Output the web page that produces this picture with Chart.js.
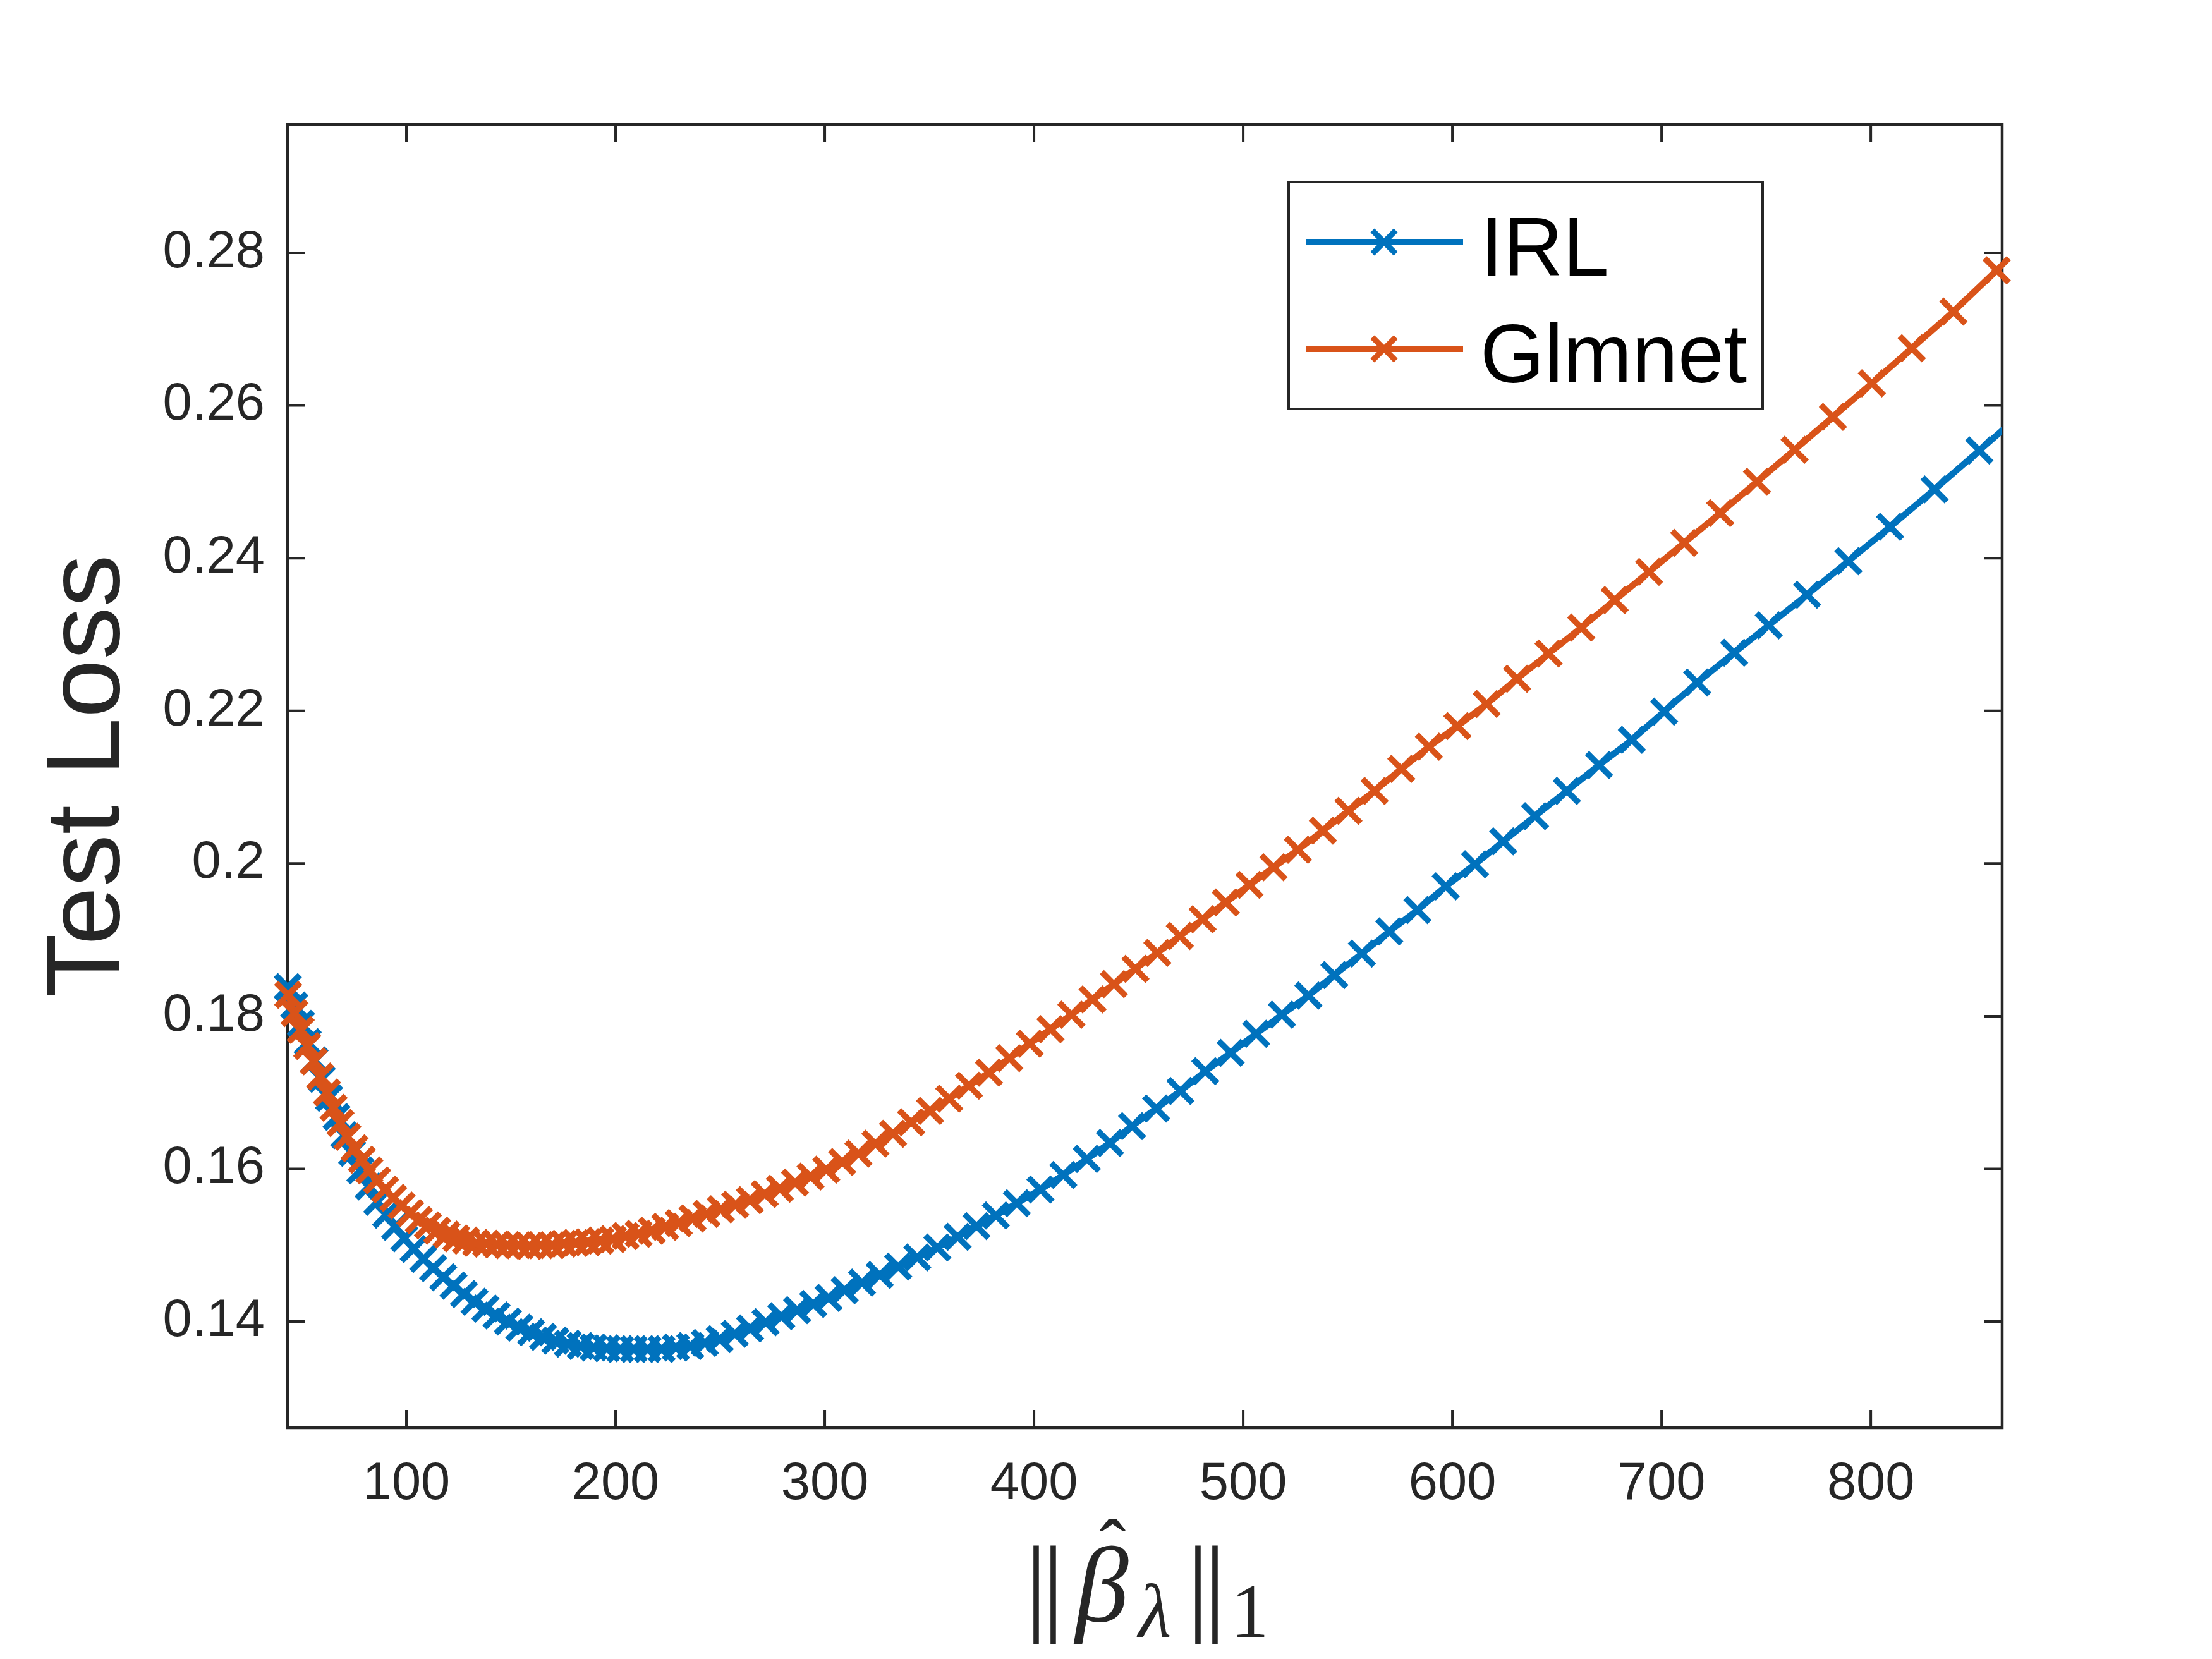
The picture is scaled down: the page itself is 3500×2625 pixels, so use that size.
<!DOCTYPE html>
<html><head><meta charset="utf-8">
<script src="https://cdn.jsdelivr.net/npm/chart.js@4/dist/chart.umd.min.js"></script>
<style>html,body{margin:0;padding:0;background:#fff;} canvas{display:block;}</style>
</head><body>
<canvas id="c" width="3500" height="2625" style="width:3500px;height:2625px"></canvas>
<script>
// ---- data ----
const irlX = [43.3, 46.4, 49.6, 52.8, 56.1, 59.5, 63.0, 66.6, 70.3, 74.1,
  78.0, 82.0, 86.1, 90.3, 94.6, 99.0, 103.5, 108.1, 112.8, 117.6,
  122.5, 127.5, 132.6, 137.8, 143.1, 148.5, 154.0, 159.6, 165.3, 171.2,
  177.2, 183.3, 189.5, 195.8, 202.2, 208.7, 215.3, 222.0, 228.8, 235.7,
  242.7, 249.8, 257.0, 264.3, 271.7, 279.2, 286.8, 294.5, 301.8, 309.5,
  317.8, 326.3, 335.1, 344.2, 353.8, 363.5, 372.5, 381.8, 391.8, 403.1,
  414.0, 425.3, 436.3, 446.9, 458.4, 470.0, 481.9, 494.0, 506.2, 518.5,
  531.2, 543.6, 556.7, 569.8, 583.3, 596.8, 610.8, 624.3, 639.5, 654.7,
  670.1, 685.8, 701.2, 717.0, 734.7, 751.2, 769.5, 789.3, 809.2, 830.5,
  851.9, 873.5];
const irlY = [0.1838, 0.1814, 0.1790, 0.1766, 0.1742, 0.1718, 0.1693, 0.1668, 0.1644, 0.1621,
  0.1598, 0.1577, 0.1557, 0.1540, 0.1524, 0.1509, 0.1495, 0.1482, 0.1470, 0.1458,
  0.1447, 0.1436, 0.1426, 0.1417, 0.1408, 0.1400, 0.1392, 0.1386, 0.1380, 0.1375,
  0.1371, 0.1368, 0.1366, 0.1365, 0.1364, 0.1364, 0.1364, 0.1364, 0.1366, 0.1368,
  0.1372, 0.1377, 0.1384, 0.1391, 0.1399, 0.1407, 0.1415, 0.1423, 0.1431, 0.1441,
  0.1451, 0.1461, 0.1472, 0.1484, 0.1497, 0.1511, 0.1525, 0.1539, 0.1555, 0.1573,
  0.1592, 0.1613, 0.1634, 0.1656, 0.1679, 0.1702, 0.1728, 0.1752, 0.1777, 0.1802,
  0.1827, 0.1854, 0.1882, 0.1911, 0.1939, 0.1970, 0.1999, 0.2029, 0.2062, 0.2095,
  0.2129, 0.2162, 0.2199, 0.2237, 0.2276, 0.2312, 0.2352, 0.2396, 0.2441, 0.2490,
  0.2541, 0.2593];
const glmX = [43.5, 46.5, 49.5, 52.6, 55.7, 58.8, 62.0, 65.2, 68.5, 71.8,
  75.2, 78.7, 82.3, 86.0, 89.8, 93.7, 97.7, 101.8, 106.0, 110.3,
  114.7, 119.2, 123.8, 128.5, 133.3, 138.2, 143.2, 148.3, 153.5, 158.8,
  164.2, 169.7, 175.3, 181.0, 186.8, 192.7, 198.7, 204.8, 211.0, 217.3,
  223.7, 230.2, 236.8, 243.5, 250.3, 257.2, 264.2, 271.3, 278.5, 285.8,
  293.2, 300.7, 308.3, 316.1, 324.2, 332.6, 341.3, 350.3, 359.5, 368.9,
  378.5, 388.2, 398.0, 407.9, 417.9, 428.0, 438.2, 448.5, 459.0, 469.7,
  480.6, 491.7, 503.0, 514.5, 526.2, 538.1, 550.3, 562.8, 575.6, 588.8,
  602.4, 616.4, 630.9, 646.0, 661.6, 677.6, 694.0, 710.8, 728.0, 745.6,
  763.6, 781.9, 800.5, 819.6, 839.5, 860.2];
const glmY = [0.1828, 0.1804, 0.1782, 0.1761, 0.1741, 0.1721, 0.1700, 0.1680, 0.1660, 0.1642,
  0.1627, 0.1612, 0.1598, 0.1585, 0.1573, 0.1562, 0.1552, 0.1542, 0.1533, 0.1526,
  0.1519, 0.1514, 0.1509, 0.1506, 0.1503, 0.1502, 0.1501, 0.1500, 0.1500, 0.1499,
  0.1500, 0.1500, 0.1502, 0.1503, 0.1504, 0.1506, 0.1508, 0.1512, 0.1515, 0.1519,
  0.1524, 0.1529, 0.1535, 0.1541, 0.1547, 0.1553, 0.1559, 0.1567, 0.1574, 0.1582,
  0.1590, 0.1599, 0.1609, 0.1620, 0.1633, 0.1646, 0.1661, 0.1676, 0.1692, 0.1709,
  0.1726, 0.1745, 0.1764, 0.1783, 0.1802, 0.1822, 0.1842, 0.1862, 0.1883, 0.1905,
  0.1927, 0.1949, 0.1972, 0.1995, 0.2018, 0.2043, 0.2069, 0.2095, 0.2124, 0.2153,
  0.2180, 0.2209, 0.2242, 0.2275, 0.2309, 0.2345, 0.2382, 0.2420, 0.2459, 0.2500,
  0.2542, 0.2585, 0.2629, 0.2675, 0.2723, 0.2777];
const seriesNames = ['IRL', 'Glmnet'];
const xTickValues = [100, 200, 300, 400, 500, 600, 700, 800];
const xTickLabels = ['100', '200', '300', '400', '500', '600', '700', '800'];
const yTickValues = [0.14, 0.16, 0.18, 0.20, 0.22, 0.24, 0.26, 0.28];
const yTickLabels = ['0.14', '0.16', '0.18', '0.2', '0.22', '0.24', '0.26', '0.28'];
const xRange = [43.2, 862.8];
const yRange = [0.1261, 0.2968];
const yTitle = 'Test Loss';

// ---- styling ----
const AX = '#262626';
const BLUE = '#0072BD';
const ORANGE = '#D95319';
Chart.defaults.font.family = '"Liberation Sans", Arial, sans-serif';

const framePlugin = {
  id: 'frame',
  beforeDatasetsDraw(chart) {
    const {ctx, chartArea: a, scales: {x, y}} = chart;
    const T = 28;
    ctx.save();
    ctx.strokeStyle = AX;
    ctx.lineWidth = 4;
    ctx.beginPath();
    xTickValues.forEach(v => {
      const px = x.getPixelForValue(v);
      ctx.moveTo(px, a.bottom); ctx.lineTo(px, a.bottom - T);
      ctx.moveTo(px, a.top); ctx.lineTo(px, a.top + T);
    });
    yTickValues.forEach(v => {
      const py = y.getPixelForValue(v);
      ctx.moveTo(a.left, py); ctx.lineTo(a.left + T, py);
      ctx.moveTo(a.right, py); ctx.lineTo(a.right - T, py);
    });
    ctx.stroke();
    ctx.lineWidth = 4.5;
    ctx.strokeRect(a.left, a.top, a.right - a.left, a.bottom - a.top);
    ctx.restore();
  }
};

function drawX(ctx, cx, cy, r, color, w) {
  const o = r * Math.SQRT1_2;
  ctx.save();
  ctx.strokeStyle = color; ctx.lineWidth = w;
  ctx.beginPath();
  ctx.moveTo(cx - o, cy - o); ctx.lineTo(cx + o, cy + o);
  ctx.moveTo(cx + o, cy - o); ctx.lineTo(cx - o, cy + o);
  ctx.stroke();
  ctx.restore();
}

const legendPlugin = {
  id: 'mlegend',
  afterDraw(chart) {
    const {ctx, chartArea: a} = chart;
    const bx = a.right - 1129, by = a.top + 91, bw = 750, bh = 359;
    ctx.save();
    ctx.fillStyle = '#fff';
    ctx.fillRect(bx, by, bw, bh);
    ctx.strokeStyle = AX; ctx.lineWidth = 4;
    ctx.strokeRect(bx, by, bw, bh);
    chart.data.datasets.forEach((ds, i) => {
      const ry = by + 95 + i * 169;
      ctx.strokeStyle = ds.borderColor; ctx.lineWidth = 10;
      ctx.beginPath(); ctx.moveTo(bx + 27, ry); ctx.lineTo(bx + 276, ry); ctx.stroke();
      drawX(ctx, bx + 151, ry, 26, ds.borderColor, 9);
      ctx.fillStyle = '#000';
      ctx.font = '131px "Liberation Sans"';
      ctx.textAlign = 'left'; ctx.textBaseline = 'alphabetic';
      ctx.fillText(ds.label, bx + 303, ry + 53);
    });
    ctx.restore();
  }
};

const xLabelPlugin = {
  id: 'xlabel',
  afterDraw(chart) {
    const {ctx, chartArea: a} = chart;
    const cx = (a.left + a.right) / 2;
    const base = a.bottom + 306, subBase = a.bottom + 331, hatBase = a.bottom + 234;
    const bar = '172px "Liberation Serif"';
    const parts = [
      {t: '|', f: bar, dx: -172, b: base},
      {t: '|', f: bar, dx: -145, b: base},
      {t: '\u03B2', f: 'italic 169px "Liberation Serif"', dx: -68, b: base},
      {t: '\u02C6', f: '127px "Liberation Serif"', dx: -51, b: hatBase},
      {t: '\u03BB', f: 'italic 120px "Liberation Serif"', dx: 16, b: subBase},
      {t: '|', f: bar, dx: 84, b: base},
      {t: '|', f: bar, dx: 111, b: base},
      {t: '1', f: '120px "Liberation Serif"', dx: 166, b: subBase}
    ];
    ctx.save();
    ctx.fillStyle = AX;
    ctx.textAlign = 'center'; ctx.textBaseline = 'alphabetic';
    parts.forEach(p => { ctx.font = p.f; ctx.fillText(p.t, cx + p.dx, p.b); });
    ctx.restore();
  }
};

const mk = (xs, ys) => xs.map((x, i) => ({x: x, y: ys[i]}));

new Chart(document.getElementById('c'), {
  type: 'line',
  data: {
    datasets: [
      {label: seriesNames[0], data: mk(irlX, irlY), borderColor: BLUE, backgroundColor: BLUE,
       borderWidth: 10, tension: 0, pointStyle: 'crossRot', pointRadius: 27, pointBorderWidth: 9.5,
       pointBorderColor: BLUE, pointBackgroundColor: BLUE, order: 2,
       clip: {left: 60, top: 60, right: 0, bottom: 60}},
      {label: seriesNames[1], data: mk(glmX, glmY), borderColor: ORANGE, backgroundColor: ORANGE,
       borderWidth: 10, tension: 0, pointStyle: 'crossRot', pointRadius: 27, pointBorderWidth: 9.5,
       pointBorderColor: ORANGE, pointBackgroundColor: ORANGE, order: 1,
       clip: {left: 60, top: 60, right: 60, bottom: 60}}
    ]
  },
  options: {
    responsive: false,
    devicePixelRatio: 1,
    animation: false,
    events: [],
    layout: {padding: {left: 0, right: 332, top: 197, bottom: 0}},
    plugins: {legend: {display: false}, tooltip: {enabled: false}},
    scales: {
      x: {
        type: 'linear', min: xRange[0], max: xRange[1],
        grid: {display: false, drawTicks: false}, border: {display: false},
        afterBuildTicks: s => { s.ticks = xTickValues.map(v => ({value: v})); },
        afterFit: s => { s.height = 366; },
        ticks: {
          autoSkip: false, maxRotation: 0, padding: 40, color: AX,
          font: {size: 83, family: '"Liberation Sans"'},
          callback: v => xTickLabels[xTickValues.indexOf(v)]
        }
      },
      y: {
        type: 'linear', min: yRange[0], max: yRange[1],
        grid: {display: false, drawTicks: false}, border: {display: false},
        afterBuildTicks: s => { s.ticks = yTickValues.map(v => ({value: v})); },
        afterFit: s => { s.width = 455; },
        ticks: {
          autoSkip: false, padding: 36, color: AX,
          font: {size: 83, family: '"Liberation Sans"'},
          callback: v => yTickLabels[yTickValues.indexOf(v)]
        },
        title: {
          display: true, text: yTitle, color: AX,
          font: {size: 166, family: '"Liberation Sans"'},
          padding: {top: 43, bottom: 0}
        }
      }
    }
  },
  plugins: [framePlugin, legendPlugin, xLabelPlugin]
});
</script>
</body></html>
